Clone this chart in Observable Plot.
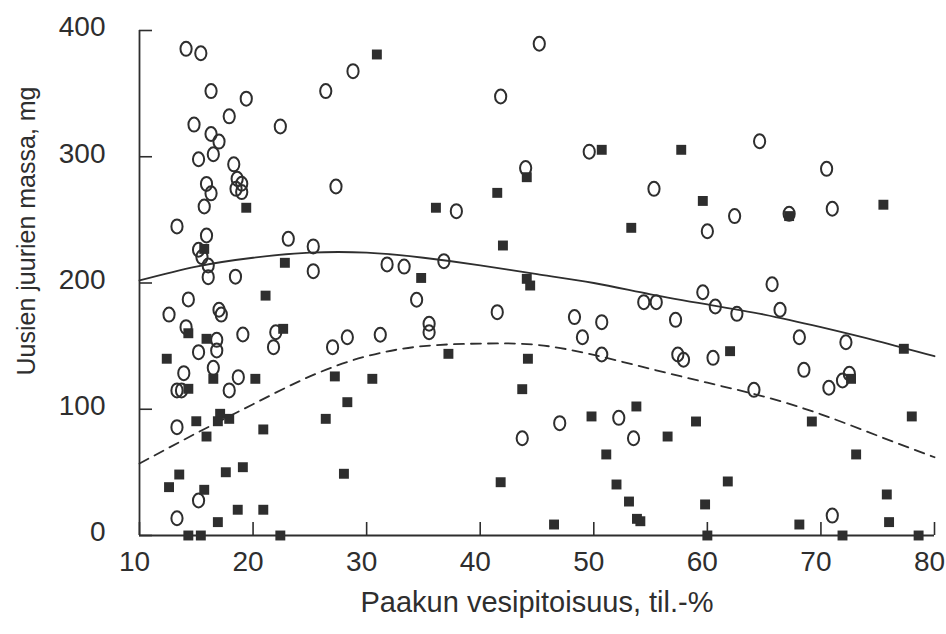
<!DOCTYPE html>
<html><head><meta charset="utf-8">
<script src="https://cdn.jsdelivr.net/npm/d3@7"></script>
<script src="https://cdn.jsdelivr.net/npm/@observablehq/plot@0.6"></script>
<style>body{margin:0;background:#fff}</style>
</head><body><div id="chart"></div>
<script>
const xTitle = "Paakun vesipitoisuus, til.-%";
const yTitle = "Uusien juurien massa, mg";
const xTicks = [10, 20, 30, 40, 50, 60, 70, 80];
const yTicks = [0, 100, 200, 300, 400];

// open circles: [water content %, root mass mg]
const circles = [
  [14.1,385.5],[15.4,382],[16.3,352],[19.4,346],[26.4,352],[14.8,325.5],[17.9,332],[22.4,324],
  [16.3,318],[17.0,312],[15.2,298],[16.5,302],[18.3,294],[15.9,278.5],[18.6,282.5],[19.0,278.6],
  [18.5,274.6],[19.0,272],[16.3,271],[15.7,260.6],[27.3,276.4],[13.3,244.8],[15.9,237.6],[15.2,226.3],
  [15.5,220.5],[16.05,213.9],[16.05,204.6],[18.45,205],[23.1,235],[25.3,229],[25.3,209.4],
  [28.8,367.8],[41.8,347.7],[45.2,389.5],[44.0,291],[37.9,256.9],[31.8,214.7],[33.3,213],[36.8,217.3],
  [49.6,304],[55.3,274.6],[60.0,241],[62.4,253],
  [64.6,312.3],[70.5,290.4],[71.0,258.8],[65.7,199],[67.2,254.8],
  [14.3,187],[12.6,175],[17.0,178.8],[17.2,175],[14.1,165],[16.8,155],[16.8,146.5],[15.2,145.2],
  [19.1,159.2],[22.0,161],[21.8,149.2],[27.0,149.2],[16.5,132.8],[13.9,128.6],[18.7,125.4],[17.9,114.9],
  [13.3,114.9],[13.7,114.9],[13.3,85.8],[15.2,27.7],[13.3,13.7],
  [34.4,186.7],[28.3,157],[31.2,159],[35.5,167.7],[35.5,161],[41.5,176.9],[43.7,77],
  [54.4,184.8],[55.5,184.8],[59.6,192.7],[60.7,181.4],[62.6,175.6],[48.3,173],[50.7,169],[49.0,157],
  [57.2,170.8],[50.7,143.4],[57.4,143.4],[57.9,139.2],[60.5,140.7],[47.0,89],[52.2,93.2],[53.5,77],
  [66.4,178.8],[68.1,157],[72.2,153.1],[68.5,131.2],[70.7,117],[71.9,122.8],[72.5,128.1],[64.1,115.4],[71.0,15.8]
];

// filled squares: [water content %, root mass mg]
const squares = [
  [19.4,259.6],[15.7,227],[22.8,216],
  [30.9,381],[41.5,271.4],[44.1,283.8],[36.1,259.6],[42.0,229.7],[34.8,204],[44.1,203.3],[44.4,198],
  [50.7,305.5],[57.7,305.5],[59.6,265],[53.3,243.7],
  [75.5,262],[67.2,253],
  [21.1,190],[14.3,160.2],[15.9,155.8],[22.65,163.7],[12.4,140],[14.3,116.2],[16.5,124.1],[20.2,124.1],
  [27.2,126],[15.0,90.5],[17.1,96.4],[16.9,90.5],[17.9,92.4],[15.9,78.4],[20.9,84],[26.4,92.4],
  [13.5,48.3],[12.6,38.3],[15.7,36.2],[17.6,50.1],[19.1,54.1],[18.65,20.4],[20.9,20.4],[16.9,10.6],
  [14.3,0],[15.4,0],[22.4,0],
  [30.5,124.1],[28.3,105.6],[37.2,143.9],[44.2,140],[43.7,115.9],[28.0,48.9],[41.8,42.2],
  [62.0,146],[53.75,102.2],[49.8,94.3],[56.5,78.4],[59.0,90.3],[51.1,64.2],[52.0,40.4],[53.1,26.9],
  [53.8,13.2],[54.1,11.3],[46.5,8.7],[61.8,42.8],[59.8,24.6],[60.0,0],
  [77.3,147.9],[72.65,124.1],[78.0,94.3],[69.2,90.3],[73.1,64.2],[75.8,32.5],[76.0,10.6],[68.1,8.7],
  [71.9,0],[78.6,0]
];

// fitted curves
const curveX  = [10, 15, 20, 25, 30, 35, 40, 45, 50, 55, 60, 65, 70, 75, 80];
const solidY  = [202, 213, 220, 224, 224, 220, 214, 207, 200, 191, 183, 175, 165, 154, 142];
const dashedY = [57, 81, 104, 126, 142, 150, 152, 151, 143, 132, 121, 110, 96, 79, 62];

const ink = "#2e2e2e";
const W = 946, H = 634, mL = 139, mR = 12, mT = 30, mB = 99;
const plotW = W - mL - mR, plotH = H - mT - mB;

// upright ellipse symbol (the scanned rings are taller than wide)
const ellipse = {
  draw(ctx, size) {
    const ry = Math.sqrt(size / Math.PI), rx = ry * 0.8, k = 0.5523;
    ctx.moveTo(rx, 0);
    ctx.bezierCurveTo(rx, ry * k, rx * k, ry, 0, ry);
    ctx.bezierCurveTo(-rx * k, ry, -rx, ry * k, -rx, 0);
    ctx.bezierCurveTo(-rx, -ry * k, -rx * k, -ry, 0, -ry);
    ctx.bezierCurveTo(rx * k, -ry, rx, -ry * k, rx, 0);
    ctx.closePath();
  }
};

const solid = curveX.map((x, i) => ({x, y: solidY[i]}));
const dashed = curveX.map((x, i) => ({x, y: dashedY[i]}));

const chart = Plot.plot({
  width: W, height: H,
  marginLeft: mL, marginRight: mR, marginTop: mT, marginBottom: mB,
  style: {fontFamily: "'Liberation Sans', Arial, Helvetica, sans-serif", background: "#fff", color: ink},
  x: {domain: [10, 80]},
  y: {domain: [0, 400]},
  marks: [
    Plot.axisX(xTicks, {tickSize: 0, tickPadding: 16, fontSize: 28, dx: -5, label: null}),
    Plot.axisY(yTicks, {tickSize: 0, tickPadding: 34, fontSize: 28, dy: -3, label: null}),
    Plot.tickX(xTicks, {x: d => d, insetTop: plotH - 13, stroke: ink, strokeWidth: 1.6}),
    Plot.tickY(yTicks, {y: d => d, insetRight: plotW - 13, stroke: ink, strokeWidth: 1.6}),
    Plot.ruleX([xTicks[0]], {stroke: ink, strokeWidth: 1.8}),
    Plot.ruleY([yTicks[0]], {stroke: ink, strokeWidth: 1.8}),
    Plot.line(solid, {x: "x", y: "y", curve: "natural", stroke: ink, strokeWidth: 1.8}),
    Plot.line(dashed, {x: "x", y: "y", curve: "natural", stroke: ink, strokeWidth: 1.8, strokeDasharray: "10,7"}),
    Plot.dot(circles, {x: d => d[0], y: d => d[1], symbol: ellipse, r: 7, fill: "none", stroke: ink, strokeWidth: 2}),
    Plot.dot(squares, {x: d => d[0], y: d => d[1], symbol: "square", r: 5.6, fill: ink, stroke: "none"}),
    Plot.text([xTitle], {text: d => d, frameAnchor: "bottom", textAnchor: "middle", lineAnchor: "middle", dy: 67, fontSize: 29, fill: ink}),
    Plot.text([yTitle], {text: d => d, frameAnchor: "left", textAnchor: "middle", lineAnchor: "middle", rotate: -90, dx: -113, dy: -52, fontSize: 25, fill: ink})
  ]
});
document.getElementById("chart").appendChild(chart);
</script>
</body></html>
